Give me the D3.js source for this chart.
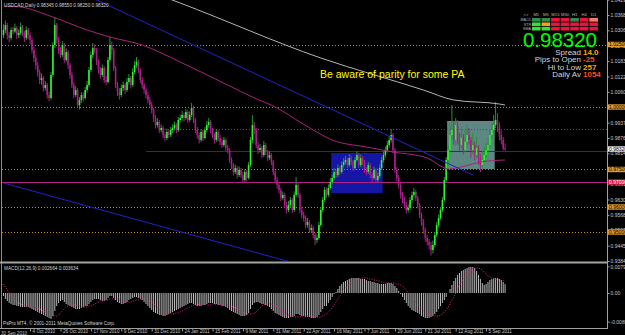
<!DOCTYPE html>
<html>
<head>
<meta charset="utf-8">
<script src="https://cdn.jsdelivr.net/npm/d3@7"></script>
<style>
  html, body { margin: 0; padding: 0; background: #000; }
  svg { display: block; font-family: "Liberation Sans", Arial, sans-serif; }
</style>
</head>
<body>
<svg width="625" height="335"></svg>
<script>
// USDCAD daily bars (one value per bar)
var opens = [
  1.0288,1.0308,1.0328,1.0288,1.0276,1.0308,1.0302,1.0316,1.0288,1.0296,
  1.0320,1.0296,1.0276,1.0308,1.0288,1.0268,1.0228,1.0196,1.0168,1.0140,
  1.0108,1.0116,1.0076,1.0088,1.0048,1.0036,1.0128,1.0248,1.0328,1.0268,
  1.0228,1.0208,1.0248,1.0188,1.0220,1.0168,1.0128,1.0088,1.0048,1.0068,
  1.0008,1.0028,1.0048,1.0036,1.0068,1.0088,1.0148,1.0208,1.0236,1.0228,
  1.0180,1.0148,1.0128,1.0156,1.0108,1.0100,1.0188,1.0248,1.0228,1.0156,
  1.0088,1.0060,1.0048,1.0076,1.0088,1.0068,1.0100,1.0116,1.0088,1.0140,
  1.0168,1.0180,1.0148,1.0108,1.0088,1.0068,1.0048,1.0028,1.0008,0.9988,
  0.9956,0.9928,0.9940,0.9908,0.9916,0.9888,0.9876,0.9900,0.9888,0.9908,
  0.9916,0.9928,0.9908,0.9948,0.9956,0.9968,0.9956,0.9980,0.9948,0.9968,
  0.9996,0.9948,0.9908,0.9888,0.9868,0.9900,0.9876,0.9908,0.9928,0.9940,
  0.9908,0.9888,0.9868,0.9900,0.9876,0.9860,0.9848,0.9868,0.9836,0.9828,
  0.9788,0.9768,0.9740,0.9756,0.9728,0.9748,0.9728,0.9708,0.9740,0.9716,
  0.9768,0.9868,0.9928,0.9908,0.9848,0.9828,0.9836,0.9808,0.9848,0.9820,
  0.9796,0.9808,0.9780,0.9740,0.9708,0.9688,0.9668,0.9636,0.9648,0.9608,
  0.9588,0.9608,0.9628,0.9588,0.9648,0.9688,0.9648,0.9588,0.9568,0.9556,
  0.9528,0.9540,0.9508,0.9516,0.9488,0.9468,0.9476,0.9528,0.9588,0.9628,
  0.9668,0.9648,0.9676,0.9700,0.9716,0.9740,0.9728,0.9756,0.9740,0.9768,
  0.9780,0.9788,0.9768,0.9796,0.9780,0.9756,0.9788,0.9808,0.9768,0.9796,
  0.9780,0.9748,0.9740,0.9768,0.9728,0.9716,0.9748,0.9708,0.9724,0.9756,
  0.9788,0.9808,0.9828,0.9848,0.9868,0.9888,0.9828,0.9748,0.9716,0.9688,
  0.9648,0.9628,0.9608,0.9588,0.9596,0.9628,0.9648,0.9660,0.9636,0.9608,
  0.9568,0.9540,0.9508,0.9476,0.9460,0.9448,0.9428,0.9448,0.9488,0.9528,
  0.9556,0.9588,0.9628,0.9708,0.9788,0.9828,0.9888,0.9908,0.9868,0.9928,
  0.9868,0.9848,0.9876,0.9828,0.9860,0.9888,0.9868,0.9828,0.9848,0.9808,
  0.9836,0.9796,0.9768,0.9788,0.9808,0.9828,0.9848,0.9888,0.9908,0.9928,
  0.9948,0.9928,0.9888,0.9868,0.98345
];
var highs = [
  1.0330,1.0345,1.0336,1.0300,1.0318,1.0322,1.0334,1.0324,1.0310,1.0338,
  1.0328,1.0304,1.0322,1.0316,1.0298,1.0276,1.0240,1.0210,1.0180,1.0150,
  1.0134,1.0124,1.0104,1.0096,1.0062,1.0140,1.0260,1.0360,1.0336,1.0280,
  1.0240,1.0264,1.0256,1.0234,1.0228,1.0176,1.0140,1.0100,1.0084,1.0076,
  1.0040,1.0060,1.0058,1.0080,1.0104,1.0160,1.0222,1.0256,1.0250,1.0236,
  1.0190,1.0160,1.0170,1.0164,1.0124,1.0200,1.0280,1.0262,1.0236,1.0164,
  1.0100,1.0076,1.0090,1.0102,1.0096,1.0116,1.0132,1.0124,1.0154,1.0184,
  1.0200,1.0188,1.0156,1.0120,1.0096,1.0078,1.0060,1.0040,1.0020,0.9996,
  0.9968,0.9956,0.9948,0.9930,0.9924,0.9900,0.9914,0.9910,0.9920,0.9930,
  0.9942,0.9936,0.9960,0.9970,0.9984,0.9978,0.9994,0.9988,0.9982,1.0016,
  1.0004,0.9956,0.9920,0.9898,0.9912,0.9908,0.9920,0.9944,0.9956,0.9948,
  0.9916,0.9896,0.9912,0.9908,0.9888,0.9872,0.9880,0.9876,0.9848,0.9836,
  0.9798,0.9776,0.9770,0.9764,0.9762,0.9756,0.9740,0.9752,0.9748,0.9780,
  0.9880,0.9968,0.9940,0.9916,0.9860,0.9852,0.9844,0.9864,0.9856,0.9828,
  0.9824,0.9816,0.9788,0.9748,0.9720,0.9698,0.9676,0.9662,0.9656,0.9620,
  0.9624,0.9640,0.9636,0.9662,0.9720,0.9700,0.9656,0.9600,0.9580,0.9566,
  0.9556,0.9548,0.9530,0.9524,0.9498,0.9490,0.9540,0.9600,0.9640,0.9680,
  0.9678,0.9690,0.9716,0.9730,0.9756,0.9750,0.9770,0.9764,0.9782,0.9796,
  0.9804,0.9796,0.9812,0.9806,0.9788,0.9800,0.9822,0.9816,0.9810,0.9804,
  0.9788,0.9760,0.9780,0.9776,0.9740,0.9762,0.9756,0.9738,0.9770,0.9800,
  0.9822,0.9842,0.9864,0.9884,0.9912,0.9896,0.9836,0.9760,0.9728,0.9696,
  0.9660,0.9640,0.9620,0.9610,0.9640,0.9662,0.9676,0.9668,0.9644,0.9616,
  0.9578,0.9552,0.9518,0.9488,0.9472,0.9460,0.9466,0.9500,0.9540,0.9570,
  0.9600,0.9640,0.9720,0.9800,0.9848,0.9936,1.0008,0.9944,0.9956,0.9948,
  0.9896,0.9920,0.9892,0.9908,0.9928,0.9916,0.9880,0.9896,0.9862,0.9880,
  0.9848,0.9812,0.9826,0.9840,0.9856,0.9880,0.9912,0.9940,0.9968,1.0020,
  0.9976,0.9940,0.9906,0.9880,0.9855
];
var lows = [
  1.0276,1.0296,1.0270,1.0258,1.0266,1.0290,1.0294,1.0272,1.0276,1.0288,
  1.0284,1.0260,1.0268,1.0272,1.0250,1.0214,1.0180,1.0150,1.0122,1.0092,
  1.0090,1.0062,1.0066,1.0034,1.0024,1.0030,1.0120,1.0236,1.0254,1.0212,
  1.0196,1.0200,1.0176,1.0180,1.0152,1.0114,1.0076,1.0034,1.0040,0.9996,
  0.9990,1.0016,1.0022,1.0030,1.0058,1.0080,1.0140,1.0196,1.0214,1.0168,
  1.0134,1.0114,1.0120,1.0096,1.0088,1.0094,1.0180,1.0210,1.0144,1.0076,
  1.0044,1.0030,1.0040,1.0064,1.0052,1.0060,1.0090,1.0074,1.0080,1.0130,
  1.0156,1.0136,1.0096,1.0074,1.0054,1.0034,1.0014,0.9994,0.9974,0.9940,
  0.9914,0.9918,0.9896,0.9898,0.9874,0.9862,0.9868,0.9876,0.9880,0.9896,
  0.9906,0.9896,0.9900,0.9938,0.9946,0.9942,0.9948,0.9936,0.9940,0.9960,
  0.9936,0.9896,0.9874,0.9854,0.9860,0.9864,0.9870,0.9898,0.9918,0.9896,
  0.9876,0.9854,0.9860,0.9864,0.9848,0.9836,0.9840,0.9824,0.9814,0.9776,
  0.9752,0.9726,0.9732,0.9714,0.9720,0.9716,0.9694,0.9700,0.9702,0.9710,
  0.9760,0.9856,0.9890,0.9836,0.9812,0.9818,0.9796,0.9800,0.9808,0.9784,
  0.9788,0.9768,0.9728,0.9694,0.9674,0.9654,0.9622,0.9628,0.9596,0.9574,
  0.9580,0.9598,0.9576,0.9580,0.9640,0.9636,0.9576,0.9554,0.9542,0.9514,
  0.9518,0.9496,0.9498,0.9474,0.9448,0.9456,0.9470,0.9520,0.9580,0.9620,
  0.9636,0.9640,0.9668,0.9690,0.9708,0.9716,0.9720,0.9728,0.9732,0.9758,
  0.9770,0.9756,0.9760,0.9768,0.9744,0.9748,0.9780,0.9756,0.9760,0.9766,
  0.9736,0.9726,0.9732,0.9714,0.9700,0.9708,0.9696,0.9698,0.9716,0.9748,
  0.9778,0.9798,0.9818,0.9838,0.9858,0.9816,0.9736,0.9702,0.9674,0.9634,
  0.9614,0.9594,0.9574,0.9578,0.9588,0.9618,0.9638,0.9624,0.9594,0.9556,
  0.9526,0.9494,0.9462,0.9446,0.9430,0.9406,0.9414,0.9440,0.9480,0.9518,
  0.9548,0.9580,0.9620,0.9700,0.9776,0.9820,0.9870,0.9850,0.9846,0.9850,
  0.9826,0.9836,0.9810,0.9818,0.9846,0.9850,0.9796,0.9812,0.9786,0.9796,
  0.9770,0.9740,0.9752,0.9780,0.9796,0.9816,0.9836,0.9870,0.9896,0.9916,
  0.9900,0.9866,0.9850,0.9826,0.9825
];
var closes = [
  1.0308,1.0328,1.0288,1.0276,1.0308,1.0302,1.0316,1.0288,1.0296,1.0320,
  1.0296,1.0276,1.0308,1.0288,1.0268,1.0228,1.0196,1.0168,1.0140,1.0108,
  1.0116,1.0076,1.0088,1.0048,1.0036,1.0128,1.0248,1.0328,1.0268,1.0228,
  1.0208,1.0248,1.0188,1.0220,1.0168,1.0128,1.0088,1.0048,1.0068,1.0008,
  1.0028,1.0048,1.0036,1.0068,1.0088,1.0148,1.0208,1.0236,1.0228,1.0180,
  1.0148,1.0128,1.0156,1.0108,1.0100,1.0188,1.0248,1.0228,1.0156,1.0088,
  1.0060,1.0048,1.0076,1.0088,1.0068,1.0100,1.0116,1.0088,1.0140,1.0168,
  1.0180,1.0148,1.0108,1.0088,1.0068,1.0048,1.0028,1.0008,0.9988,0.9956,
  0.9928,0.9940,0.9908,0.9916,0.9888,0.9876,0.9900,0.9888,0.9908,0.9916,
  0.9928,0.9908,0.9948,0.9956,0.9968,0.9956,0.9980,0.9948,0.9968,0.9996,
  0.9948,0.9908,0.9888,0.9868,0.9900,0.9876,0.9908,0.9928,0.9940,0.9908,
  0.9888,0.9868,0.9900,0.9876,0.9860,0.9848,0.9868,0.9836,0.9828,0.9788,
  0.9768,0.9740,0.9756,0.9728,0.9748,0.9728,0.9708,0.9740,0.9716,0.9768,
  0.9868,0.9928,0.9908,0.9848,0.9828,0.9836,0.9808,0.9848,0.9820,0.9796,
  0.9808,0.9780,0.9740,0.9708,0.9688,0.9668,0.9636,0.9648,0.9608,0.9588,
  0.9608,0.9628,0.9588,0.9648,0.9688,0.9648,0.9588,0.9568,0.9556,0.9528,
  0.9540,0.9508,0.9516,0.9488,0.9468,0.9476,0.9528,0.9588,0.9628,0.9668,
  0.9648,0.9676,0.9700,0.9716,0.9740,0.9728,0.9756,0.9740,0.9768,0.9780,
  0.9788,0.9768,0.9796,0.9780,0.9756,0.9788,0.9808,0.9768,0.9796,0.9780,
  0.9748,0.9740,0.9768,0.9728,0.9716,0.9748,0.9708,0.9724,0.9756,0.9788,
  0.9808,0.9828,0.9848,0.9868,0.9888,0.9828,0.9748,0.9716,0.9688,0.9648,
  0.9628,0.9608,0.9588,0.9596,0.9628,0.9648,0.9660,0.9636,0.9608,0.9568,
  0.9540,0.9508,0.9476,0.9460,0.9448,0.9428,0.9448,0.9488,0.9528,0.9556,
  0.9588,0.9628,0.9708,0.9788,0.9828,0.9888,0.9908,0.9868,0.9928,0.9868,
  0.9848,0.9876,0.9828,0.9860,0.9888,0.9868,0.9828,0.9848,0.9808,0.9836,
  0.9796,0.9768,0.9788,0.9808,0.9828,0.9848,0.9888,0.9908,0.9928,0.9948,
  0.9928,0.9888,0.9868,0.98345,0.9832
];

// MACD(12,26,9) main line (histogram) and signal line, one value per bar
var macdMain = [
  -0.0009,-0.0018,-0.0024,-0.0030,-0.0033,-0.0036,-0.0036,-0.0039,-0.0039,-0.0042,
  -0.0042,-0.0042,-0.0042,-0.0042,-0.0045,-0.0048,-0.0051,-0.0054,-0.0057,-0.0060,
  -0.0063,-0.0066,-0.0069,-0.0072,-0.0075,-0.0078,-0.0069,-0.0054,-0.0039,-0.0030,
  -0.0024,-0.0021,-0.0027,-0.0033,-0.0036,-0.0039,-0.0042,-0.0045,-0.0048,-0.0048,
  -0.0048,-0.0045,-0.0042,-0.0039,-0.0039,-0.0033,-0.0027,-0.0021,-0.0018,-0.0018,
  -0.0018,-0.0021,-0.0024,-0.0024,-0.0021,-0.0015,-0.0009,-0.0009,-0.0015,-0.0021,
  -0.0027,-0.0030,-0.0033,-0.0033,-0.0030,-0.0027,-0.0021,-0.0018,-0.0015,-0.0012,
  -0.0012,-0.0015,-0.0018,-0.0021,-0.0027,-0.0033,-0.0039,-0.0045,-0.0051,-0.0057,
  -0.0060,-0.0063,-0.0066,-0.0066,-0.0069,-0.0069,-0.0066,-0.0063,-0.0060,-0.0057,
  -0.0054,-0.0051,-0.0048,-0.0045,-0.0042,-0.0039,-0.0036,-0.0033,-0.0030,-0.0030,
  -0.0033,-0.0036,-0.0039,-0.0039,-0.0039,-0.0036,-0.0036,-0.0033,-0.0030,-0.0030,
  -0.0030,-0.0033,-0.0033,-0.0036,-0.0036,-0.0039,-0.0039,-0.0042,-0.0045,-0.0051,
  -0.0054,-0.0057,-0.0060,-0.0063,-0.0066,-0.0069,-0.0069,-0.0069,-0.0066,-0.0060,
  -0.0048,-0.0036,-0.0030,-0.0027,-0.0027,-0.0030,-0.0033,-0.0033,-0.0036,-0.0039,
  -0.0042,-0.0048,-0.0054,-0.0060,-0.0063,-0.0066,-0.0069,-0.0072,-0.0075,-0.0075,
  -0.0075,-0.0072,-0.0072,-0.0069,-0.0063,-0.0063,-0.0066,-0.0069,-0.0069,-0.0072,
  -0.0072,-0.0072,-0.0075,-0.0075,-0.0075,-0.0072,-0.0066,-0.0057,-0.0048,-0.0039,
  -0.0039,-0.0030,-0.0021,-0.0012,-0.0003,0.0003,0.0012,0.0021,0.0027,0.0033,
  0.0036,0.0039,0.0042,0.0045,0.0045,0.0045,0.0045,0.0045,0.0042,0.0042,
  0.0042,0.0039,0.0036,0.0036,0.0033,0.0033,0.0030,0.0030,0.0027,0.0027,
  0.0027,0.0027,0.0030,0.0030,0.0030,0.0027,0.0021,0.0015,0.0006,-0.0003,
  -0.0012,-0.0021,-0.0030,-0.0039,-0.0045,-0.0051,-0.0054,-0.0057,-0.0060,-0.0063,
  -0.0069,-0.0072,-0.0075,-0.0075,-0.0075,-0.0072,-0.0069,-0.0063,-0.0057,-0.0048,
  -0.0039,-0.0030,-0.0021,-0.0012,0.0000,0.0012,0.0024,0.0036,0.0045,0.0054,
  0.0060,0.0066,0.0069,0.0072,0.0075,0.0078,0.0078,0.0078,0.0075,0.0066,
  0.0054,0.0042,0.0030,0.0024,0.0027,0.0033,0.0039,0.0042,0.0045,0.0045,
  0.0045,0.0042,0.0039,0.0033,0.002664
];
var macdSignal = [
  0.0027,0.0018,0.0009,0.0000,-0.0009,-0.0015,-0.0021,-0.0027,-0.0030,-0.0033,
  -0.0036,-0.0036,-0.0039,-0.0039,-0.0039,-0.0042,-0.0042,-0.0045,-0.0045,-0.0048,
  -0.0051,-0.0054,-0.0057,-0.0060,-0.0063,-0.0066,-0.0069,-0.0069,-0.0069,-0.0066,
  -0.0060,-0.0054,-0.0048,-0.0042,-0.0039,-0.0036,-0.0036,-0.0036,-0.0036,-0.0039,
  -0.0039,-0.0042,-0.0042,-0.0042,-0.0042,-0.0039,-0.0039,-0.0036,-0.0033,-0.0030,
  -0.0027,-0.0024,-0.0024,-0.0021,-0.0021,-0.0021,-0.0018,-0.0018,-0.0018,-0.0018,
  -0.0018,-0.0021,-0.0021,-0.0024,-0.0027,-0.0027,-0.0027,-0.0027,-0.0024,-0.0024,
  -0.0021,-0.0021,-0.0018,-0.0018,-0.0018,-0.0021,-0.0021,-0.0024,-0.0027,-0.0033,
  -0.0039,-0.0042,-0.0048,-0.0051,-0.0054,-0.0057,-0.0060,-0.0063,-0.0063,-0.0063,
  -0.0063,-0.0060,-0.0060,-0.0057,-0.0054,-0.0051,-0.0048,-0.0045,-0.0042,-0.0039,
  -0.0036,-0.0036,-0.0036,-0.0033,-0.0033,-0.0033,-0.0033,-0.0036,-0.0036,-0.0036,
  -0.0033,-0.0033,-0.0033,-0.0033,-0.0033,-0.0033,-0.0036,-0.0036,-0.0036,-0.0039,
  -0.0039,-0.0042,-0.0045,-0.0048,-0.0051,-0.0054,-0.0057,-0.0060,-0.0063,-0.0063,
  -0.0063,-0.0063,-0.0060,-0.0057,-0.0051,-0.0045,-0.0039,-0.0036,-0.0033,-0.0033,
  -0.0033,-0.0033,-0.0036,-0.0039,-0.0042,-0.0045,-0.0051,-0.0054,-0.0060,-0.0063,
  -0.0066,-0.0069,-0.0069,-0.0072,-0.0072,-0.0072,-0.0072,-0.0069,-0.0069,-0.0069,
  -0.0069,-0.0069,-0.0069,-0.0072,-0.0072,-0.0072,-0.0072,-0.0072,-0.0069,-0.0066,
  -0.0063,-0.0057,-0.0051,-0.0045,-0.0036,-0.0027,-0.0018,-0.0009,0.0000,0.0009,
  0.0015,0.0021,0.0027,0.0033,0.0036,0.0039,0.0042,0.0042,0.0045,0.0045,
  0.0045,0.0045,0.0042,0.0042,0.0042,0.0039,0.0039,0.0036,0.0036,0.0033,
  0.0033,0.0030,0.0030,0.0030,0.0030,0.0030,0.0030,0.0027,0.0027,0.0024,
  0.0021,0.0015,0.0009,0.0003,-0.0003,-0.0012,-0.0018,-0.0027,-0.0033,-0.0039,
  -0.0045,-0.0051,-0.0057,-0.0060,-0.0063,-0.0066,-0.0069,-0.0069,-0.0069,-0.0069,
  -0.0066,-0.0063,-0.0057,-0.0051,-0.0042,-0.0033,-0.0021,-0.0012,0.0000,0.0012,
  0.0024,0.0033,0.0042,0.0051,0.0057,0.0063,0.0069,0.0072,0.0075,0.0075,
  0.0075,0.0072,0.0069,0.0063,0.0057,0.0051,0.0048,0.0045,0.0043,0.0041,
  0.0040,0.0039,0.0038,0.0037,0.003634
];

// moving averages, [bar, price] vertices
var maPurple = [[0,1.0404],[9,1.0400],[26,1.0360],[44,1.0308],[56,1.0280],[73,1.0248],
  [93,1.0180],[118,1.0088],[131,1.0040],[144,0.9996],[156,0.9940],[163,0.9908],
  [173,0.9868],[191,0.9840],[205,0.9820],[223,0.9796],[231,0.9760],[234,0.9752],
  [243,0.9764],[251,0.9780],[264,0.9788]];
var maGrey = [[72,1.0476],[93,1.0416],[167,1.0196],[221,1.0068],[237,1.0028],[261,1.0012],[264,1.0008]];

// drawn objects
var channelLines = [[40,1.0460,247,0.9728],[0,0.9696,151,0.9380]];
var dottedLevels = [1.0250,1.0000,0.9750,0.9600,0.9500];
var redLevel = 0.9700;
var blueLevel = [75,0.9824];
var brownLevel = [85,0.9912];
var zones = [[173,199,0.9816,0.9656],[234,258,0.9944,0.9752]];
var currentPrice = 0.9832;
var note = "Be aware of parity for some PA";

// axes
var priceTicks = [1.04295,1.03680,1.03065,1.02450,1.01835,1.01220,1.00605,0.99990,0.99375,
  0.98760,0.98145,0.97530,0.96915,0.96300,0.95685,0.95070,0.94455,0.93840];
var macdTicks = [0.00798,0,-0.00857];
var macdTickText = ["0.00798","0.00","-0.00857"];
var firstDate = "30 Sep 2010";
var dateIdx = [14,30,46,62,78,94,110,126,142,158,174,190,206,222,238,254];
var dateLabels = ["4 Oct 2010","26 Oct 2010","17 Nov 2010","9 Dec 2010","31 Dec 2010",
  "24 Jan 2011","15 Feb 2011","9 Mar 2011","31 Mar 2011","22 Apr 2011","16 May 2011",
  "7 Jun 2011","29 Jun 2011","21 Jul 2011","12 Aug 2011","5 Sep 2011"];

// signal panel in the corner
var timeframes = ["M1","M5","M15","M30","H1","H4","D1"];
var panelRows = ["MACD","STR","EMA"];
var panelStates = [
  ["up","up","down","down","up","down","weak"],
  ["strong","warn","down","down","down","down","down"],
  ["strong","strong","down","down","down","down","down"]
];
var infoLabels = ["Spread","Pips to Open","Hi to Low","Daily Av"];
var infoValues = ["14.0","-25","257","1054"];

var width = 625, height = 335;
var axisX = 607;
var svg = d3.select("svg");

svg.append("rect").attr("width", width).attr("height", height).attr("fill", "#000");

var defs = svg.append("defs");
defs.append("clipPath").attr("id", "clipMain")
  .append("rect").attr("x", 2).attr("y", 0).attr("width", axisX - 2).attr("height", 261);
defs.append("clipPath").attr("id", "clipMacd")
  .append("rect").attr("x", 2).attr("y", 264).attr("width", axisX - 2).attr("height", 63);

var x = d3.scaleLinear().domain([0, closes.length - 1]).range([3.5, 3.5 + 1.9 * (closes.length - 1)]);
var y = d3.scaleLinear().domain([0.9380, 1.0428]).range([262, 0]);
var yM = d3.scaleLinear().domain([-0.0102, 0.0087]).range([327, 264]);

var main = svg.append("g").attr("clip-path", "url(#clipMain)");

// rectangles behind the bars
var zoneColors = ["#1616a6", "#5d8782"];
main.selectAll("rect.zone")
  .data(zones)
  .enter()
  .append("rect")
    .attr("x", d => x(d[0]) - 1)
    .attr("y", d => y(d[2]))
    .attr("width", d => x(d[1]) - x(d[0]) + 2)
    .attr("height", d => y(d[3]) - y(d[2]))
    .attr("fill", (d, k) => zoneColors[k]);

// horizontal levels
main.selectAll("line.level")
  .data(dottedLevels)
  .enter()
  .append("line")
    .attr("x1", 2).attr("x2", axisX)
    .attr("y1", d => Math.round(y(d)) + 0.5).attr("y2", d => Math.round(y(d)) + 0.5)
    .attr("stroke", "#c08418")
    .attr("stroke-dasharray", "1,2");

main.append("line")
  .attr("x1", x(brownLevel[0])).attr("x2", axisX)
  .attr("y1", Math.round(y(brownLevel[1])) + 0.5).attr("y2", Math.round(y(brownLevel[1])) + 0.5)
  .attr("stroke", "#8a3a40")
  .attr("stroke-dasharray", "1,2");

main.append("line")
  .attr("x1", x(blueLevel[0])).attr("x2", axisX)
  .attr("y1", Math.round(y(blueLevel[1])) + 0.5).attr("y2", Math.round(y(blueLevel[1])) + 0.5)
  .attr("stroke", "#2424b0");

main.append("line")
  .attr("x1", 2).attr("x2", axisX)
  .attr("y1", Math.round(y(redLevel)) + 0.5).attr("y2", Math.round(y(redLevel)) + 0.5)
  .attr("stroke", "#b0207e");

// candles
var idx = d3.range(closes.length);
var isBull = i => closes[i] >= opens[i];

main.selectAll("line.wick")
  .data(idx)
  .enter()
  .append("line")
    .attr("x1", i => x(i)).attr("x2", i => x(i))
    .attr("y1", i => y(highs[i])).attr("y2", i => y(lows[i]))
    .attr("stroke", i => isBull(i) ? "#1c9a2c" : "#a81f88")
    .attr("stroke-width", 1);

main.selectAll("rect.body")
  .data(idx)
  .enter()
  .append("rect")
    .attr("x", i => x(i) - 0.8)
    .attr("y", i => y(Math.max(opens[i], closes[i])))
    .attr("width", 1.6)
    .attr("height", i => Math.max(1, Math.abs(y(opens[i]) - y(closes[i]))))
    .attr("fill", i => isBull(i) ? "#2bf52b" : "#a81f88");

// moving averages
var maLine = d3.line()
  .x(d => x(d[0]))
  .y(d => y(d[1]))
  .curve(d3.curveMonotoneX);

main.append("path").attr("d", maLine(maGrey))
  .attr("fill", "none").attr("stroke", "#b4b4b4").attr("stroke-width", 1);
main.append("path").attr("d", maLine(maPurple))
  .attr("fill", "none").attr("stroke", "#a8247a").attr("stroke-width", 1);

// channel trend lines
main.selectAll("line.channel")
  .data(channelLines)
  .enter()
  .append("line")
    .attr("x1", d => x(d[0])).attr("y1", d => y(d[1]))
    .attr("x2", d => x(d[2])).attr("y2", d => y(d[3]))
    .attr("stroke", "#2222c8")
    .attr("stroke-width", 1);

// MACD sub-window
var macdG = svg.append("g").attr("clip-path", "url(#clipMacd)");

macdG.selectAll("line.hist")
  .data(idx)
  .enter()
  .append("line")
    .attr("x1", i => x(i)).attr("x2", i => x(i))
    .attr("y1", yM(0)).attr("y2", i => yM(macdMain[i]))
    .attr("stroke", "#b8b8b8")
    .attr("stroke-width", 1);

var sigLine = d3.line()
  .x(i => x(i))
  .y(i => yM(macdSignal[i]));

macdG.append("path").attr("d", sigLine(idx))
  .attr("fill", "none")
  .attr("stroke", "#e8238e")
  .attr("stroke-width", 1)
  .attr("stroke-dasharray", "1,1.5");

// frames
svg.append("line").attr("x1", 1.5).attr("x2", 1.5).attr("y1", 0).attr("y2", 328)
  .attr("stroke", "#8c8c8c");
svg.append("rect").attr("x", 0).attr("y", 261.5).attr("width", axisX + 1).attr("height", 2)
  .attr("fill", "#a4a49c");
svg.append("line").attr("x1", 0).attr("x2", axisX + 0.5).attr("y1", 328.5).attr("y2", 328.5)
  .attr("stroke", "#a0a0a0");
svg.append("line").attr("x1", axisX + 0.5).attr("x2", axisX + 0.5).attr("y1", 0).attr("y2", 329)
  .attr("stroke", "#a0a0a0");

// price axis
var priceAxis = svg.append("g")
  .attr("transform", "translate(" + (axisX + 0.5) + ",0)")
  .call(d3.axisRight(y).tickValues(priceTicks).tickFormat(d3.format(".5f"))
    .tickSize(2).tickPadding(1).tickSizeOuter(0));

var macdAxis = svg.append("g")
  .attr("transform", "translate(" + (axisX + 0.5) + ",0)")
  .call(d3.axisRight(yM).tickValues(macdTicks).tickFormat((d, k) => macdTickText[k])
    .tickSize(2).tickPadding(1).tickSizeOuter(0));

[priceAxis, macdAxis].forEach(function (g) {
  g.select(".domain").remove();
  g.selectAll("line").attr("stroke", "#a0a0a0");
  g.selectAll("text").attr("fill", "#c8c8c8").attr("font-size", "5px")
    .attr("font-family", "Liberation Sans, Arial, sans-serif");
});

// level tags on the price scale
var tagColors = ["#e29a2e", "#e29a2e", "#e29a2e", "#e29a2e", "#e29a2e"];
var tags = svg.append("g");
var tagData = dottedLevels.map((p, k) => ({ p: p, fill: tagColors[k], text: "#000" }))
  .concat([{ p: redLevel, fill: "#e0143a", text: "#fff" },
           { p: currentPrice, fill: "#f0f0f0", text: "#000" }]);
tags.selectAll("rect")
  .data(tagData)
  .enter()
  .append("rect")
    .attr("x", axisX + 1).attr("y", d => y(d.p) - 2.7)
    .attr("width", width - axisX).attr("height", 5.4)
    .attr("fill", d => d.fill);
tags.selectAll("text")
  .data(tagData)
  .enter()
  .append("text")
    .attr("x", axisX + 2).attr("y", d => y(d.p) + 1.8)
    .attr("font-size", "5px")
    .attr("fill", d => d.text)
    .text(d => d3.format(".5f")(d.p));

// time axis
var timeAxis = svg.append("g")
  .attr("transform", "translate(0,328.5)")
  .call(d3.axisBottom(x).tickValues(dateIdx).tickFormat((d, k) => dateLabels[k])
    .tickSize(3).tickPadding(0).tickSizeOuter(0));
timeAxis.select(".domain").remove();
timeAxis.selectAll("line").attr("stroke", "#a0a0a0");
timeAxis.selectAll("text")
  .attr("text-anchor", "start").attr("dx", 2).attr("y", 1.2)
  .attr("fill", "#c8c8c8").attr("font-size", "4.6px");

svg.append("text").attr("x", 1).attr("y", 334.5)
  .attr("fill", "#c8c8c8").attr("font-size", "4.6px").text(firstDate);

// captions
var small = { fill: "#d4d4d4", size: "4.7px" };
svg.append("text").attr("x", 4).attr("y", 7)
  .attr("fill", small.fill).attr("font-size", small.size)
  .text("USDCAD,Daily  0.98345 0.98550 0.98250 " + d3.format(".5f")(closes[closes.length - 1]));
svg.append("text").attr("x", 4).attr("y", 269.5)
  .attr("fill", small.fill).attr("font-size", small.size)
  .text("MACD(12,26,9) " + d3.format(".6f")(macdMain[macdMain.length - 1]) + " " +
        d3.format(".6f")(macdSignal[macdSignal.length - 1]));
svg.append("text").attr("x", 3).attr("y", 325)
  .attr("fill", small.fill).attr("font-size", small.size)
  .text("PsPro MT4, \u00a9 2001-2011 MetaQuotes Software Corp.");

svg.append("text").attr("x", 320).attr("y", 78)
  .attr("fill", "#ffff00").attr("font-size", "10.5px")
  .text(note);

// corner signal panel
var stateColor = { up: "#2f8c52", strong: "#36e036", warn: "#f2a21c", down: "#e8163c", weak: "#f27c66" };
var panel = svg.append("g");
var colX = d3.scaleBand().domain(timeframes).range([532, 598]).paddingInner(0.1);
var rowY = d3.scaleBand().domain(panelRows).range([18, 30.5]).paddingInner(0.18);

panel.selectAll("text.tf")
  .data(["<>"].concat(timeframes))
  .enter()
  .append("text")
    .attr("x", (d, k) => k === 0 ? 526 : colX(d) + colX.bandwidth() / 2)
    .attr("y", 15.5)
    .attr("text-anchor", "middle")
    .attr("fill", "#b8b8b8").attr("font-size", "4.2px")
    .text(d => d);

panel.selectAll("text.row")
  .data(panelRows)
  .enter()
  .append("text")
    .attr("x", 531).attr("y", d => rowY(d) + rowY.bandwidth() - 0.3)
    .attr("text-anchor", "end")
    .attr("fill", "#b8b8b8").attr("font-size", "3.6px")
    .text(d => d);

panelStates.forEach(function (row, r) {
  panel.selectAll("rect.r" + r)
    .data(row)
    .enter()
    .append("rect")
      .attr("x", (d, k) => colX(timeframes[k]))
      .attr("y", rowY(panelRows[r]))
      .attr("width", colX.bandwidth())
      .attr("height", rowY.bandwidth())
      .attr("fill", d => stateColor[d]);
});

panel.append("text").attr("x", 597).attr("y", 47)
  .attr("text-anchor", "end")
  .attr("fill", "#00ff00").attr("font-size", "20.5px")
  .text(d3.format(".5f")(currentPrice));

var valueColors = ["#ffa500", "#ff4a14", "#ffa500", "#ff4a14"];
panel.selectAll("text.info")
  .data(infoLabels)
  .enter()
  .append("text")
    .attr("x", 581).attr("y", (d, k) => 55 + k * 7.4)
    .attr("text-anchor", "end")
    .attr("fill", "#d4d4d4").attr("font-size", "8px")
    .text(d => d);
panel.selectAll("text.val")
  .data(infoValues)
  .enter()
  .append("text")
    .attr("x", 583).attr("y", (d, k) => 55 + k * 7.4)
    .attr("fill", (d, k) => valueColors[k]).attr("font-size", "8px")
    .attr("font-weight", "bold")
    .text(d => d);
</script>
</body>
</html>
